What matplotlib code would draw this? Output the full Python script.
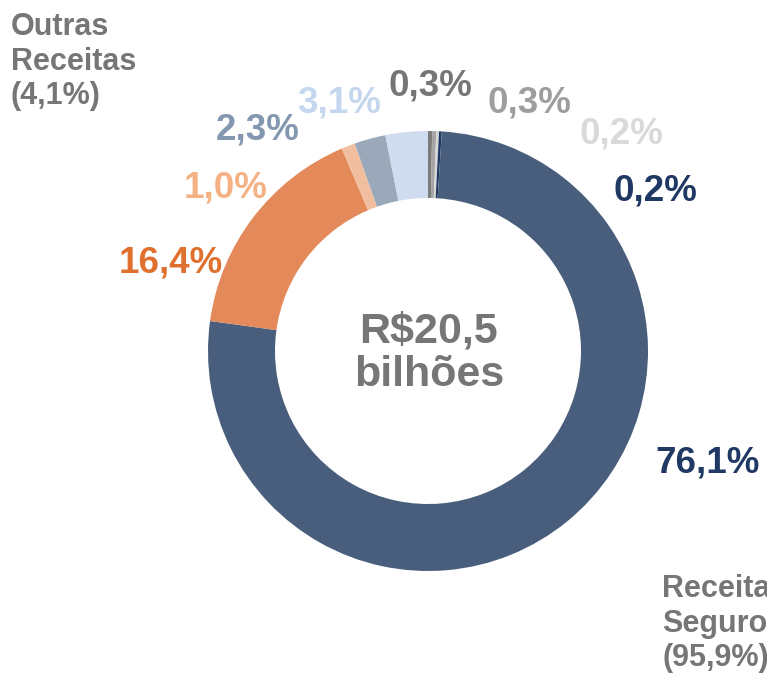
import numpy as np
import matplotlib.pyplot as plt

# fatias no sentido horario a partir do topo
valores = [0.3, 0.3, 0.2, 0.2, 76.1, 16.4, 1.0, 2.3, 3.1]
rotulos = ['0,3%', '0,3%', '0,2%', '0,2%', '76,1%', '16,4%', '1,0%', '2,3%', '3,1%']
cores = ['#7B7B7B', '#A5A5A5', '#D6D6D6', '#1F3864', '#495E7C',
         '#E3895A', '#F1BFA0', '#9AA8BA', '#CFDCEF']
cores_rotulo = ['#767676', '#9E9E9E', '#D9D9D9', '#1F3864', '#1F3864',
                '#E0702E', '#F4B183', '#8497B0', '#C5D7EE']
# posicao dos rotulos (pixels, origem no canto superior esquerdo)
pos_rotulo = [(430, 86), (529, 103), (621, 134), (655, 191), (708, 463),
              (171, 263), (226, 188), (258, 130), (339, 103)]

W, H = 767, 681
fig = plt.figure(figsize=(W / 100, H / 100), dpi=100)
ax = fig.add_axes([0, 0, 1, 1])

ax.pie(valores, colors=cores, startangle=90, counterclock=False,
       radius=220, center=(428, H - 351),
       wedgeprops=dict(width=67, edgecolor='none'))
ax.set_xlim(0, W)
ax.set_ylim(0, H)
ax.set_aspect('equal')
ax.axis('off')

fonte = 'Liberation Sans'
for txt, cor, (x, y) in zip(rotulos, cores_rotulo, pos_rotulo):
    ax.text(x, H - y, txt, color=cor, fontsize=26.5, fontweight='bold',
            family=fonte, ha='center', va='center')

ax.text(429, H - 353, 'R$20,5\nbilhões', color='#767676', fontsize=31,
        fontweight='bold', family=fonte, ha='center', va='center', linespacing=1.1)

# textos laterais (o de baixo fica cortado na borda, como no original)
ax.text(11, H - 12, 'Outras\nReceitas\n(4,1%)', color='#767676', fontsize=22,
        fontweight='bold', family=fonte, ha='left', va='top', linespacing=1.2)
ax.text(662, H - 574, 'Receitas\nSeguros\n(95,9%)', color='#767676', fontsize=22,
        fontweight='bold', family=fonte, ha='left', va='top', linespacing=1.2)

fig.savefig('out.png', dpi=100)
